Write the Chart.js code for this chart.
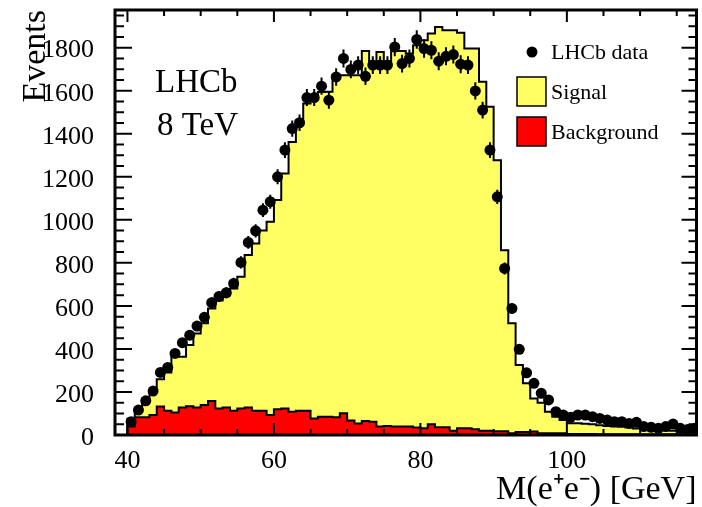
<!DOCTYPE html>
<html>
<head>
<meta charset="utf-8">
<script src="https://cdn.jsdelivr.net/npm/chart.js@4.4.0/dist/chart.umd.min.js"></script>
<style>
  html, body { margin: 0; padding: 0; background: #fff; }
  #wrap { width: 702px; height: 507px; }
</style>
</head>
<body>
<div id="wrap"><canvas id="massPlot" width="702" height="507"></canvas></div>
<script>
// di-electron mass, 1 GeV bins starting at 40 GeV
const binLow = 40;
const binWidth = 1;

// observed candidates per bin
const dataCounts = [
  62, 116, 159, 204, 291, 314, 379, 429, 464, 506,
  547, 615, 644, 661, 704, 802, 895, 949, 1045, 1084,
  1200, 1324, 1424, 1451, 1568, 1568, 1621, 1556, 1664, 1750,
  1699, 1719, 1667, 1719, 1719, 1719, 1803, 1726, 1750, 1838,
  1796, 1788, 1737, 1760, 1768, 1723, 1719, 1599, 1510, 1324,
  1107, 774, 588, 398, 289, 240, 194, 163, 108, 93,
  82, 93, 93, 85, 77, 70, 62, 62, 54, 59,
  39, 36, 31, 39, 51, 31, 26, 31
];

// signal template stacked on the background (top of the yellow histogram)
const signalStack = [
  75, 110, 170, 200, 259, 290, 364, 364, 418, 472,
  519, 588, 625, 650, 681, 735, 836, 890, 950, 991,
  1092, 1215, 1362, 1463, 1541, 1568, 1594, 1595, 1664, 1672,
  1672, 1672, 1785, 1711, 1780, 1720, 1785, 1785, 1773, 1811,
  1835, 1866, 1896, 1881, 1881, 1869, 1796, 1796, 1641, 1525,
  1277, 859, 519, 325, 240, 170, 150, 108, 85, 70,
  55, 55, 52, 50, 45, 42, 40, 38, 35, 30,
  28, 26, 24, 22, 20, 18, 17, 16
];

// background template
const background = [
  39, 82, 82, 93, 132, 113, 105, 128, 134, 128,
  139, 158, 123, 128, 113, 123, 128, 113, 113, 93,
  120, 123, 108, 113, 113, 77, 85, 85, 82, 101,
  67, 54, 65, 62, 39, 42, 39, 39, 39, 35,
  31, 50, 36, 36, 20, 31, 31, 27, 20, 20,
  18, 18, 8, 14, 14, 16, 8, 8, 8, 8,
  5, 5, 5, 5, 4, 4, 4, 4, 4, 3,
  3, 3, 3, 3, 3, 3, 3, 3
];

const xTicks = [40, 60, 80, 100];
const yTicks = [0, 200, 400, 600, 800, 1000, 1200, 1400, 1600, 1800];
const xMinorStep = 5;
const yMinorStep = 50;

const serif = "'Liberation Serif', 'Times New Roman', serif";
const yellow = "#ffff64";
const red = "#ff0000";

// step outline: value i spans [edge i, edge i+1)
function histPoints(vals) {
  const pts = [{ x: binLow, y: 0 }];
  vals.forEach((v, i) => pts.push({ x: binLow + i * binWidth, y: v }));
  const end = binLow + vals.length * binWidth;
  pts.push({ x: end, y: vals[vals.length - 1] });
  pts.push({ x: end, y: 0 });
  return pts;
}

const dataPoints = dataCounts.map((v, i) => ({ x: binLow + (i + 0.5) * binWidth, y: v }));

// sqrt(N) error bars on the data
const errorBars = {
  id: "errorBars",
  afterDatasetsDraw(chart) {
    const { ctx, scales: { x, y } } = chart;
    ctx.save();
    ctx.strokeStyle = "#000";
    ctx.lineWidth = 2;
    ctx.beginPath();
    dataPoints.forEach((p) => {
      const e = Math.sqrt(p.y);
      const px = x.getPixelForValue(p.x);
      ctx.moveTo(px, y.getPixelForValue(p.y - e));
      ctx.lineTo(px, y.getPixelForValue(p.y + e));
    });
    ctx.stroke();
    ctx.restore();
  },
};

// box frame with inward ticks on all four sides
const frameTicks = {
  id: "frameTicks",
  afterDraw(chart) {
    const { ctx, chartArea: a, scales: { x, y } } = chart;
    ctx.save();
    ctx.strokeStyle = "#000";
    ctx.lineWidth = 2;
    ctx.beginPath();
    for (let v = xTicks[0]; v <= x.max; v += xMinorStep) {
      const px = x.getPixelForValue(v);
      const len = xTicks.includes(v) ? 12 : 6;
      ctx.moveTo(px, a.bottom); ctx.lineTo(px, a.bottom - len);
      ctx.moveTo(px, a.top); ctx.lineTo(px, a.top + len);
    }
    for (let v = 0; v <= y.max; v += yMinorStep) {
      const py = y.getPixelForValue(v);
      const major = yTicks.includes(v);
      ctx.moveTo(a.left, py); ctx.lineTo(a.left + (major ? 17 : 9), py);
      ctx.moveTo(a.right, py); ctx.lineTo(a.right - (major ? 15 : 8), py);
    }
    ctx.stroke();
    ctx.lineWidth = 3;
    ctx.strokeRect(a.left, a.top, a.right - a.left, a.bottom - a.top);
    ctx.restore();
  },
};

// experiment label and legend box
const labels = {
  id: "labels",
  afterDraw(chart) {
    const { ctx } = chart;
    const ds = chart.data.datasets;
    ctx.save();
    ctx.fillStyle = "#000";
    ctx.textAlign = "left";
    ctx.textBaseline = "alphabetic";
    ctx.font = "33px " + serif;
    ctx.fillText("LHCb", 155, 92);
    ctx.fillText("8 TeV", 157, 135);

    ctx.font = "22px " + serif;
    ctx.beginPath();
    ctx.arc(532, 52, 5.5, 0, Math.PI * 2);
    ctx.fill();
    ctx.fillText(ds[0].label, 551, 59);

    ctx.lineWidth = 1.5;
    ctx.strokeStyle = "#000";
    [[ds[2], 77, 99], [ds[1], 117, 139]].forEach(([d, top, base]) => {
      ctx.fillStyle = d.backgroundColor;
      ctx.fillRect(517, top, 29, 29);
      ctx.strokeRect(517, top, 29, 29);
      ctx.fillStyle = "#000";
      ctx.fillText(d.label, 551, base);
    });
    ctx.restore();
  },
};

new Chart(document.getElementById("massPlot"), {
  type: "scatter",
  data: {
    datasets: [
      {
        label: "LHCb data",
        data: dataPoints,
        pointRadius: 5.5,
        pointBackgroundColor: "#000",
        pointBorderWidth: 0,
        showLine: false,
      },
      {
        label: "Background",
        data: histPoints(background),
        showLine: true,
        stepped: "before",
        borderColor: "#000",
        borderWidth: 2,
        backgroundColor: red,
        fill: "origin",
        pointRadius: 0,
      },
      {
        label: "Signal",
        data: histPoints(signalStack),
        showLine: true,
        stepped: "before",
        borderColor: "#000",
        borderWidth: 2,
        backgroundColor: yellow,
        fill: "origin",
        pointRadius: 0,
      },
    ],
  },
  options: {
    responsive: false,
    animation: false,
    devicePixelRatio: 1,
    layout: { padding: { top: 10, right: 5, bottom: 0, left: 0 } },
    plugins: { legend: { display: false }, tooltip: { enabled: false } },
    scales: {
      x: {
        type: "linear",
        min: 38.3,
        max: 117.7,
        grid: { display: false },
        border: { display: false },
        afterBuildTicks: (s) => { s.ticks = xTicks.map((value) => ({ value })); },
        afterFit: (s) => {
          s.height = 72;
          s.paddingLeft = 0;
          s.paddingRight = 0;
        },
        ticks: {
          color: "#000",
          padding: 3,
          maxRotation: 0,
          font: { family: serif, size: 26 },
          callback: (v) => String(v),
        },
        title: {
          display: true,
          text: "M(e\u207Ae\u207B) [GeV]",
          align: "end",
          color: "#000",
          padding: 0,
          font: { family: serif, size: 34, lineHeight: 1 },
        },
      },
      y: {
        min: 0,
        max: 1975,
        grid: { display: false },
        border: { display: false },
        afterBuildTicks: (s) => { s.ticks = yTicks.map((value) => ({ value })); },
        afterFit: (s) => {
          s.width = 115;
          s.paddingTop = 0;
          s.paddingBottom = 0;
        },
        ticks: {
          color: "#000",
          padding: 13,
          labelOffset: 3,
          font: { family: serif, size: 26 },
          callback: (v) => String(v),
        },
        title: {
          display: true,
          text: "Events",
          align: "end",
          color: "#000",
          padding: { top: 19, bottom: 0 },
          font: { family: serif, size: 34, lineHeight: 1 },
        },
      },
    },
  },
  plugins: [errorBars, frameTicks, labels],
});
</script>
</body>
</html>
